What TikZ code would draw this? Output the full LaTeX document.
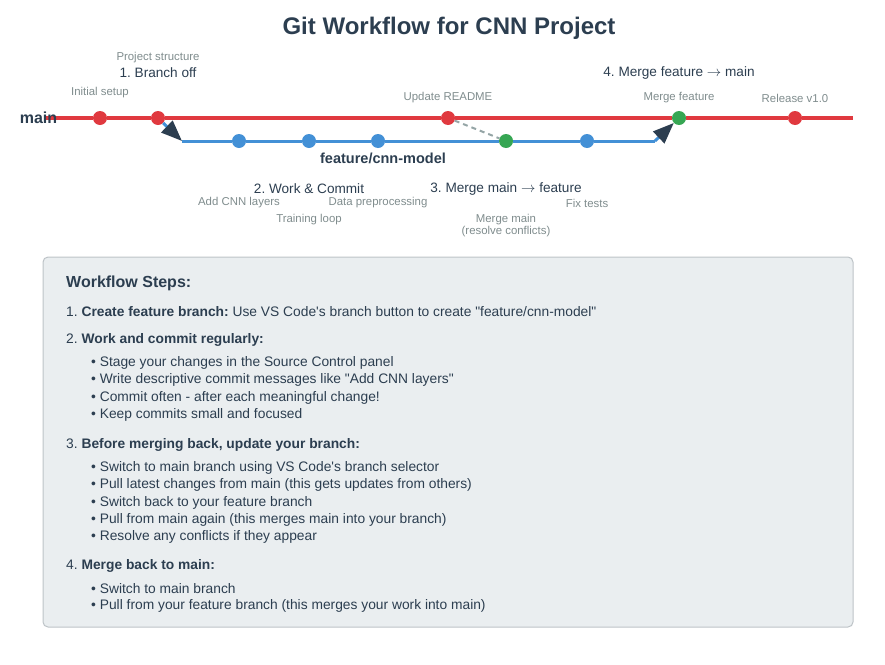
\documentclass[tikz,border=0pt]{standalone}
\usepackage{fontspec}
\setmainfont{Liberation Sans}
\usetikzlibrary{positioning, arrows.meta}
\frenchspacing

\definecolor{mainred}{HTML}{E0393F}
\definecolor{featblue}{HTML}{4390D6}
\definecolor{mergegreen}{HTML}{36A653}
\definecolor{ink}{HTML}{2C3E50}
\definecolor{muted}{HTML}{7F8C8D}
\definecolor{synccol}{HTML}{95A5A6}
\definecolor{panelfill}{HTML}{EAEEF0}
\definecolor{paneldraw}{HTML}{BDC3C7}

\newcommand{\toarrow}{$\rightarrow$}
\newcommand{\dq}{\textquotedbl}
\newcommand{\sq}{\textquotesingle}

\begin{document}
\begin{tikzpicture}[
  x=1pt, y=-1pt,
  commit/.style={circle, minimum size=14pt, inner sep=0pt},
  mainline/.style={line width=3.5pt, mainred},
  featline/.style={line width=3pt, featblue},
  branchoff/.style={line width=3pt, featblue, -{Triangle[length=21pt,width=16pt,color=ink]}},
  sync/.style={line width=2pt, synccol, dash pattern=on 5pt off 4pt},
  note/.style={font=\fontsize{11.4}{12}\selectfont, text=muted, inner sep=1pt, yshift=-2pt},
  stepl/.style={font=\fontsize{13.6}{16}\selectfont, text=ink, inner sep=1pt, yshift=-1pt},
  branchl/.style={font=\fontsize{14.5}{17}\selectfont\bfseries, text=ink, inner sep=1pt},
  panelbox/.style={rectangle, rounded corners=5pt, draw=paneldraw, line width=1pt, fill=panelfill},
  ptext/.style={anchor=west, font=\fontsize{13.8}{16}\selectfont, text=ink, inner sep=0pt, yshift=-2pt},
]
\useasboundingbox (0,0) rectangle (885,664);

% title
\node[font=\fontsize{24}{28}\selectfont\bfseries, text=ink] (title) at (449,28) {Git Workflow for CNN Project};

% commits on main
\node[commit, fill=mainred] (m1) at (100,118) {};
\node[commit, fill=mainred] (m2) at (158,118) {};
\node[commit, fill=mainred] (m3) at (448,118) {};
\node[commit, fill=mergegreen] (m4) at (679,118) {};
\node[commit, fill=mainred] (m5) at (795,118) {};
\coordinate (mstart) at (45,118);
\coordinate (mend) at (853,118);

% commits on the feature branch
\node[commit, fill=featblue] (f1) at (239,141) {};
\node[commit, fill=featblue] (f2) at (309,141) {};
\node[commit, fill=featblue] (f3) at (378,141) {};
\node[commit, fill=mergegreen] (fm) at (506,141) {};
\node[commit, fill=featblue] (f5) at (587,141) {};
\coordinate (fork) at (182,141);
\coordinate (fjoin) at (655,141);

% branches
\draw[mainline] (mstart) -- (m1) -- (m2) -- (m3) -- (m4) -- (m5) -- (mend);
\draw[featline] (fork) -- (f1) -- (f2) -- (f3) -- (fm) -- (f5) -- (fjoin);
\draw[branchoff] (m2) -- (fork);
\draw[branchoff] (fjoin) -- (m4);
\draw[sync] (m3) -- (fm);

\node[font=\fontsize{16}{18}\selectfont\bfseries, text=ink, inner sep=0pt] (lmain) at (38.5,118) {main};
\node[branchl] (lfeat) at (383,158) {feature/cnn-model};

% labels above main
\node[note] (lm1) at (100,91) {Initial setup};
\node[note] (lm2) at (158,56) {Project structure};
\node[stepl] (s1) at (158,72) {1. Branch off};
\node[note] (lm3) at (448,96) {Update README};
\node[note] (lm4) at (679,96) {Merge feature};
\node[note] (lm5) at (795,96) {Release v1.0};
\node[stepl] (s4) at (679,72) {4. Merge feature \toarrow{} main};

% labels below feature
\node[stepl] (s2) at (309,188) {2. Work \& Commit};
\node[note] (lf1) at (239,201) {Add CNN layers};
\node[note] (lf2) at (309,218) {Training loop};
\node[note] (lf3) at (378,201) {Data preprocessing};
\node[stepl] (s3) at (506,188) {3. Merge main \toarrow{} feature};
\node[note, align=center] (lfm) at (506,224) {Merge main\\(resolve conflicts)};
\node[note] (lf5) at (587,201) {Fix tests};

% workflow steps panel
\node[panelbox, minimum width=810pt, minimum height=370pt] (panel) at (448,442) {};
\node[ptext, font=\fontsize{16}{18}\selectfont\bfseries] (head) at (66,281) {Workflow Steps:};
\node[ptext] (st1) at (66,310) {1. \textbf{Create feature branch:} Use VS Code\sq{}s branch button to create \dq{}feature/cnn-model\dq};
\node[ptext] (st2) at (66,338) {2. \textbf{Work and commit regularly:}};
\node[ptext] (b21) at (91,361) {• Stage your changes in the Source Control panel};
\node[ptext] (b22) at (91,378) {• Write descriptive commit messages like \dq{}Add CNN layers\dq};
\node[ptext] (b23) at (91,396) {• Commit often - after each meaningful change!};
\node[ptext] (b24) at (91,413) {• Keep commits small and focused};
\node[ptext] (st3) at (66,443) {3. \textbf{Before merging back, update your branch:}};
\node[ptext] (b31) at (91,466) {• Switch to main branch using VS Code\sq{}s branch selector};
\node[ptext] (b32) at (91,483) {• Pull latest changes from main (this gets updates from others)};
\node[ptext] (b33) at (91,501) {• Switch back to your feature branch};
\node[ptext] (b34) at (91,518) {• Pull from main again (this merges main into your branch)};
\node[ptext] (b35) at (91,535) {• Resolve any conflicts if they appear};
\node[ptext] (st4) at (66,564) {4. \textbf{Merge back to main:}};
\node[ptext] (b41) at (91,587) {• Switch to main branch};
\node[ptext] (b42) at (91,604) {• Pull from your feature branch (this merges your work into main)};
\end{tikzpicture}
\end{document}
